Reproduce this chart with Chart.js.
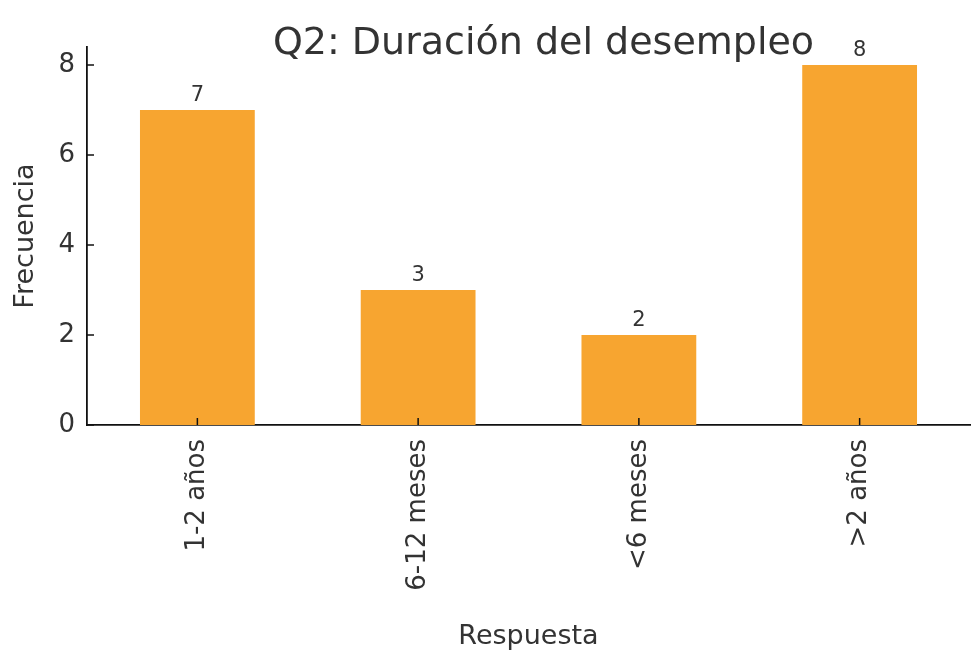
<!DOCTYPE html>
<html>
<head>
<meta charset="utf-8">
<script src="https://cdn.jsdelivr.net/npm/chart.js@4/dist/chart.umd.min.js"></script>
<style>
  html, body { margin: 0; padding: 0; background: #fff; }
  #wrap { width: 973px; height: 661px; }
</style>
</head>
<body>
<div id="wrap"><canvas id="c" width="973" height="661"></canvas></div>
<script>
// data
const categories = ['1-2 años', '6-12 meses', '<6 meses', '>2 años'];
const counts = [7, 3, 2, 8];
const yTicks = [0, 2, 4, 6, 8];

const titleText = 'Q2: Duración del desempleo';
const textColor = '#333333';
const barColor = '#F7A530';
const font = 'DejaVu Sans';

// matplotlib-style extras: title over plot area, inward ticks, value labels
const extras = {
  id: 'extras',
  afterDraw(chart) {
    const ctx = chart.ctx;
    const area = chart.chartArea;
    const x = chart.scales.x, y = chart.scales.y;
    ctx.save();
    ctx.strokeStyle = '#111';
    ctx.lineWidth = 1.5;
    yTicks.forEach(v => {
      const py = y.getPixelForValue(v);
      ctx.beginPath();
      ctx.moveTo(area.left, py);
      ctx.lineTo(area.left + 7, py);
      ctx.stroke();
    });
    categories.forEach((c, i) => {
      const px = x.getPixelForValue(i);
      ctx.beginPath();
      ctx.moveTo(px, area.bottom);
      ctx.lineTo(px, area.bottom - 7);
      ctx.stroke();
    });

    ctx.fillStyle = textColor;
    ctx.textAlign = 'center';
    ctx.textBaseline = 'bottom';
    ctx.font = '21px "' + font + '"';
    chart.getDatasetMeta(0).data.forEach((bar, i) => {
      ctx.fillText(String(counts[i]), bar.x, bar.y - 4);
    });

    ctx.font = '38px "' + font + '"';
    ctx.textBaseline = 'middle';
    ctx.fillText(titleText, (area.left + area.right) / 2 + 15, 44);
    ctx.restore();
  }
};

new Chart(document.getElementById('c'), {
  type: 'bar',
  data: {
    labels: categories,
    datasets: [{
      data: counts,
      backgroundColor: barColor,
      borderWidth: 0,
      barPercentage: 0.52,
      categoryPercentage: 1.0
    }]
  },
  options: {
    responsive: false,
    animation: false,
    layout: { padding: { top: 47, right: 3, left: 0, bottom: 8 } },
    plugins: {
      legend: { display: false },
      tooltip: { enabled: false }
    },
    scales: {
      x: {
        offset: true,
        grid: { display: false, drawTicks: false },
        border: { display: true, color: '#111', width: 1.8 },
        ticks: {
          color: textColor,
          font: { family: font, size: 26 },
          minRotation: 90,
          maxRotation: 90,
          padding: 14,
          autoSkip: false
        },
        title: {
          display: true,
          text: 'Respuesta',
          color: textColor,
          font: { family: font, size: 27 },
          padding: { top: 4, bottom: 0 }
        },
        afterFit: s => { s.height = 661 - 8 - 425; }
      },
      y: {
        min: 0,
        max: 8.4,
        afterBuildTicks: s => { s.ticks = yTicks.map(v => ({ value: v })); },
        grid: { display: false, drawTicks: false },
        border: { display: true, color: '#111', width: 1.8 },
        ticks: {
          color: textColor,
          font: { family: font, size: 26 },
          padding: 12
        },
        title: {
          display: true,
          text: 'Frecuencia',
          color: textColor,
          font: { family: font, size: 27 },
          padding: { top: 10, bottom: 4 }
        },
        afterFit: s => { s.width = 87; }
      }
    }
  },
  plugins: [extras]
});
</script>
</body>
</html>
